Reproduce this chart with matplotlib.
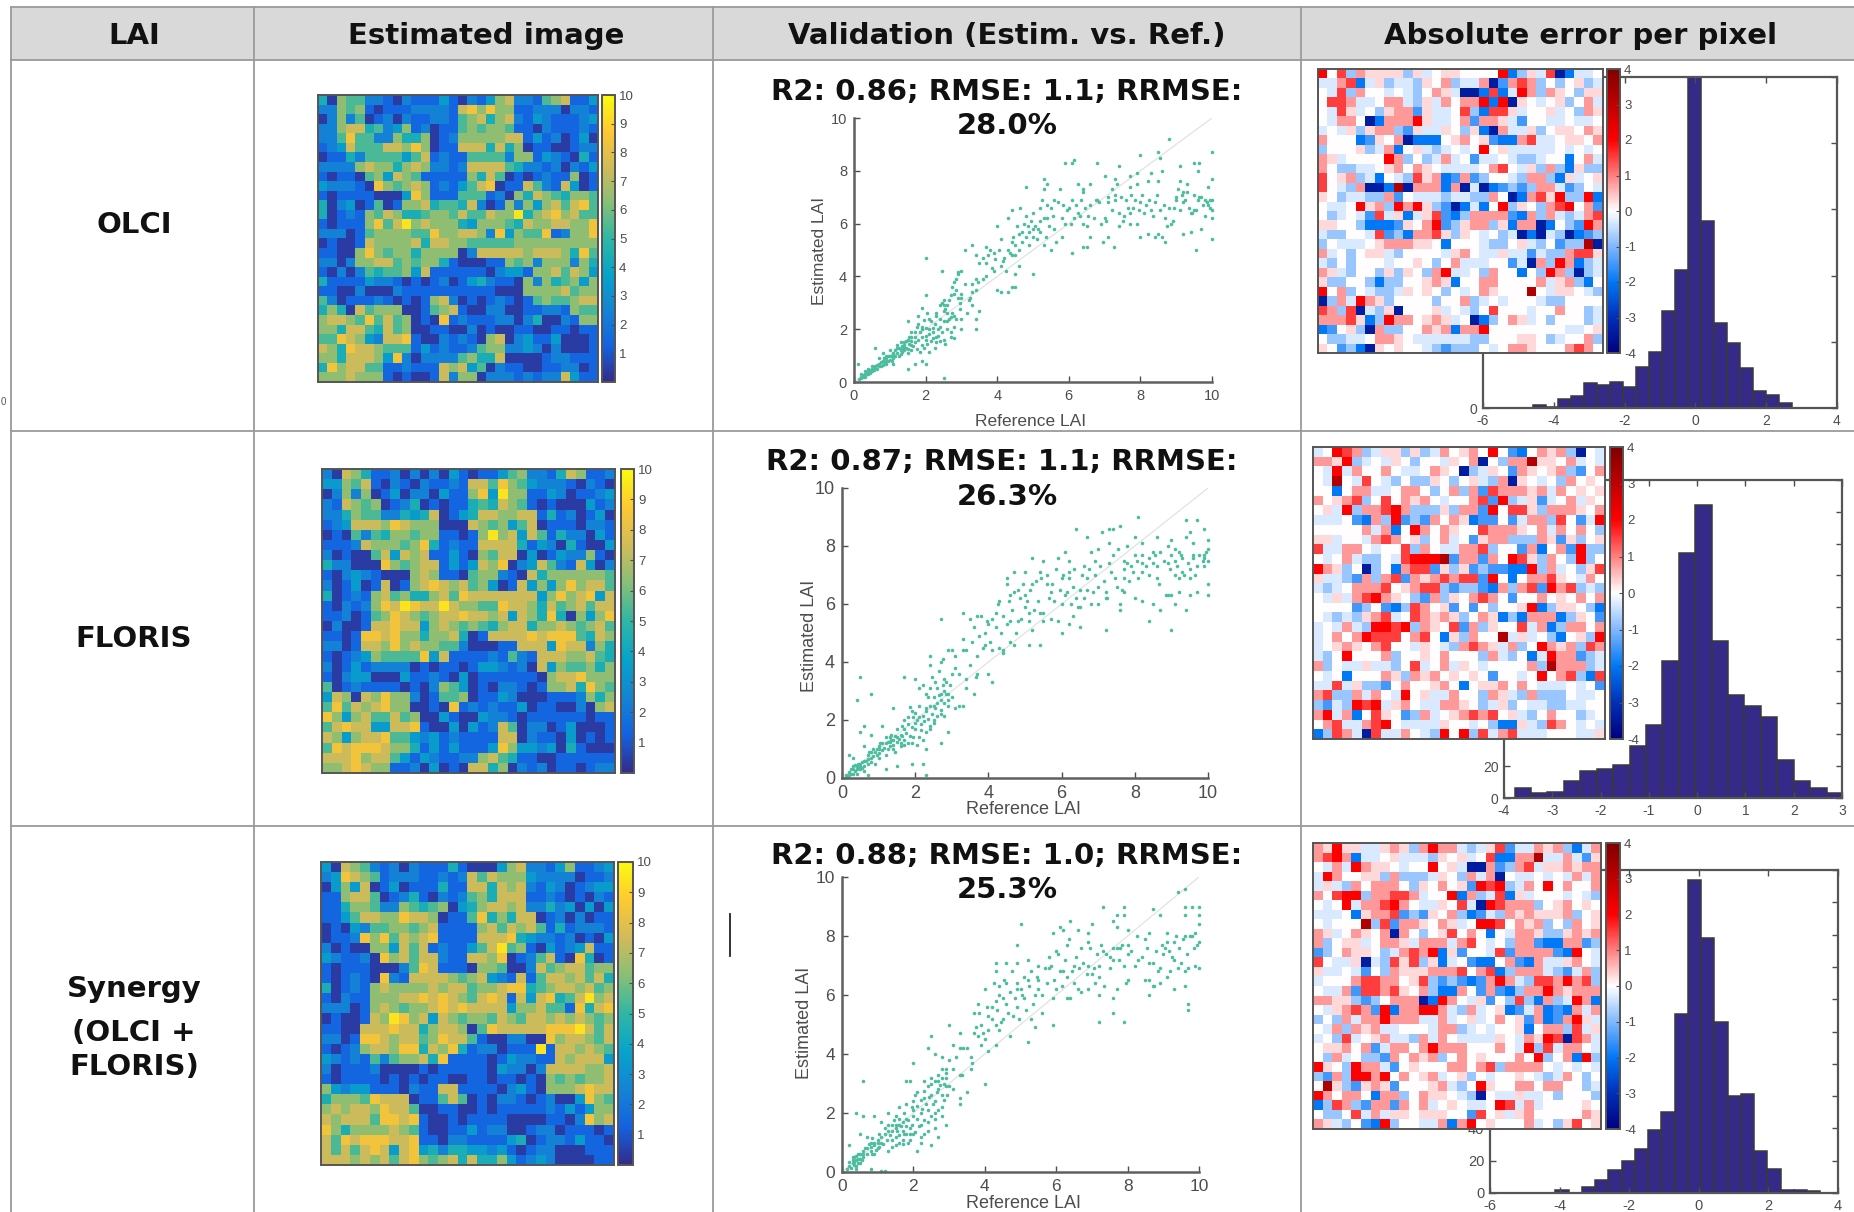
import numpy as np
import matplotlib
matplotlib.use("Agg")
import matplotlib.pyplot as plt
from matplotlib.colors import LinearSegmentedColormap
from matplotlib.patches import Rectangle

W, H = 1854, 1212
plt.rcParams['font.family'] = ['Liberation Sans', 'DejaVu Sans']
plt.rcParams['axes.unicode_minus'] = False

# LAI maps, one digit per pixel
OLCI_MAP = """
4065522102 1113102136 7221567113
2265610111 2222178686 6112220221
0262501202 1122156746 7213211123
2267745236 1201156566 5110211121
2258552264 4601266666 7713120130
1237555776 8601177747 4601100122
0114255553 5712115555 2661321041
2222676646 7622127777 5422120213
1011056376 5111116475 0101211601
3222108656 7612135780 1175217301
1011110003 8611155512 0647654665
4023015016 6745547201 6263675785
4012165764 4566575576 6946786755
1011168579 6766643666 5476677668
2220156666 5586677628 3655812668
0100176666 7477665555 5666666666
1100686566 4666602777 7767776485
2202667756 5664100011 6562666264
1020254556 3711111102 3316675763
4111132210 1012013421 1062645636
1100200021 1111111110 0066667566
5201112101 0167201012 1015655677
4640756660 0156710022 0011221655
6776585756 0108121112 2024002166
6647754756 0011002010 0110011011
5587632778 1002121067 0231130001
7648776555 1312112566 2232020001
6647776382 0222256447 0000122111
4867755112 1117673502 1100112201
6667666101 0017266022 2121227311
"""
FLORIS_MAP = """
2076411202 0203101135 6221476112
3365710210 2112177586 5322210210
0262601302 2031168396 6113201123
2176560124 0101145476 5101000312
2246552243 4701347766 7714120130
1237776876 6600076563 5701110221
0105254665 6611016967 3751422031
1112766656 8412117777 4132041003
2010057376 7113106577 0301322610
4220008656 7713137680 2375217302
1023210006 7611056621 0746666665
2013017016 7876756301 7363686775
4012167564 4675877777 7736867837
1021268798 7797665587 7647567577
1120156876 5677877673 7648406368
0200177877 3676565467 7466765675
1101887866 4667401777 7878885476
2201776867 6655200011 7773877264
1012365555 8371111215 2177766754
2013122220 1011013321 2073655646
1023300031 1210301111 1106778666
5012111101 0265301022 1016674865
3760768662 0155601132 0001112646
5857678660 0108121211 3011002067
8636755756 0031003221 0111111011
5787733778 1003031275 0220130001
7636778553 2312111177 0211030101
5878887664 1313111386 3323041000
7778677531 3211226754 1100111111
6678766112 0301077460 2120110122
"""
SYNERGY_MAP = """
3076521202 1114100036 7221361123
2387651222 1121275766 6322220112
0363701301 1141177476 7213201233
1167750124 1021256477 7112101021
1146652265 4560346776 7224230303
1135776687 7601158464 7701202011
0103255665 6711116757 6751412221
0112868576 7811117778 4322120103
2010066375 7121135795 6103123711
3211208675 7721177680 1257108401
1011100025 8711106650 0275677566
1012108217 7776567321 7157767574
4012167666 6767756678 8456776756
1021166677 8787657871 7378457967
2220167656 6787877773 6675518478
0100176986 7376566576 5776767656
1100777877 4677605877 7778889757
2201887677 5687751002 2008677657
1012677688 4768412201 1191776765
3212152566 7481111013 2211767773
2011120000 1011111032 2027777667
1011110101 0110011011 0106565667
6323311102 1177111102 3106667877
4666587770 1157501022 1012003865
6767768775 0011001011 1112131366
7677758878 1001011110 0001102867
8646666765 1001131220 0122011101
7587888778 1102211113 4012213110
7575787378 3424433231 0122000111
7776767578 6567474463 1232000011
"""
# error maps, one letter per pixel
OLCI_ERR = """
s.rbqppppb pa.pp....s dbparedaa.
aaqrdapbaa bp.qbaaqec qrqb.b.pba
.arbq..a.a b.qpaeedrd asqbqp.bpp
.rrqaa.qqa bpaq.qqsds ep.a.pb.qa
.arpa.bpqq cpaa.rbdrr pa..pa.bqp
.aqq.edqqq spaa.qcqqp ac..aa.aa.
a.apbpqqbc paap.bpdeq aapb.pp.qp
q...dcp.qe ddd.pq.pcd dqraa.pp.q
b...pbaqd. paba.a.s.p aaaaa.a.a.
qpa....sqb .baqa.caa. abba..d.qa
q.bbaa.pq. qp.aaaa.qr .apbqbdpbb
r.pqbad.ab rpqdcqcb.. abqqbdpa.p
r.abqeedte qqqdqeaedc bcbqqacb.a
p.baabbqc. aaabaabbq. edqrpsbbsd
.aa.spqbsq spbcedad.s bp.bqrs.qc
.ba.acrapd aprcdbqqqq cdqbqabaqr
pp..bdddcp .qscbpqqbp dqqed.bcsq
abb..arcbd qqrpbp.a.b aedeabedcb
b.aaa.pqqq pp.d...abb .pab.cbbte
qa.b.ppab. ...apq.aap aacabbqrrp
ab.b...a.. p.b.qaaa.. caeqbsqdba
qpab..bpbp .bqsaa.bq. .d.bsqbeba
pbb..bdbb. .pqpd..qq. ...qapqbd.
s.qb.abbap .p.b.a.qp. ..t.app.ab
ebqasqpb.. ..b..qba.a ...abb....
rqbreabpe. ..pa.ab.r. ..a..q..ba
qqqrpdbsqq .pqpa.edb. qpa.b...ba
dc.pbeqbb. .qpqdqqs.. ......aa.p
.bbaa.qqp. aaaaaabb.. .pp.ba..qb
p.cbdep.p. .abcbbb.a. qqp...qrq.
"""
FLORIS_ERR = """
a.srqbappb pbaq.pq.s. cd.qpqbe.a
qqpsba.ap. b..ap.qe.b qqtpp.qa.a
.asaq..q.a a.qp.ebap. cqp.pqbc.q
.at.ar.ab. bbp.b.pabq ep.a.bq.p.
..d.qqaa.q q.b.qbqcrq qqpqaq.p.p
q.pqrb.r.q pq.a..qrcs bapca.qap.
.pasbqqrsq bbbpbqqcs. rrpbqqqp.q
aaa.cdqbsc bcq.qpdcc. caqqbr.cas
.....qaqd. sq.qp..rqq qp.qaq.q.b
ppa..aqrq. pb.qa.cpqq bbbqpcpb.p
raaqq.a..r bq.aaqqrb. .cqd.qcsbb
.a.qabb.ar ssstcqqcq. srpbq.bsb.
sqpb.eb.dq rrcpbpcbcc ddsbqa.bpr
paabcqbqrc qpqrqrrcs. d.qqrp.aq.
aba.qqqr.p qrrbcbbcdq bqrcsqrbab
.apaqrsqp. bcqbp.qrq. c..q.p.q.q
....cb.cdb rq.pc.c.b. .psdbpp.bd
.ababpqra. rqpqpb.qpd bdqqqdbp.c
a.aqabssrs bqp.rcqbp. .raqdbqq.q
a.q.qsrrr. qr.dpbq..t apa.bd.pbs
a.pqp.qr.. ap.abqrqpa qb.sqpqbrq
ab.s...qb. .p.q...bqa b.dasqqcba
qb.aapaab. ra.qap.a.. ..qbtqqqba
.a.d...qpb qpq.p.p.c. .a.s.qrbdr
aarapbbc.q ..pq.d.ppq .q.aaa.a.c
qrbbqaq.as .paaq..bqp abqbbb.aa.
bcabsrsapq .aaqqp.bap b.aabbaa..
qsaqd.rp.c bqa.pqrqr. pab.q..ba.
.qraaqrs.a aaap..a.bd dpabrq.a.a
dbrqaeraaq .abs.sbraq raaa...aap
"""
SYNERGY_ERR = """
qpsppaapqp bqsqqabapr caaqpqbdaq
qrsqdaa.pa aabp.pa.rd dqqtaaqacp
.aqasqpp.a ..s.paeeqc bqrappqpqq
asq..ppbqb bbap.bqaqe .aa.a.aqaq
apabq.qqq. bp.q.pcsrs baq.s.q..q
q.rssbqqrr qa..sdqbar dpa...a.ab
.a.saqqrsq .aap.raesr qqqb.pq.p.
aaa.dpqqrc bcp.qbdcab qpqpppqb.p
.a...tbrcq qp.qpa.ssr .qpqb.bq.p
qpa.qp.qeq .b.pr.q.d. aqqpbbpqpq
qb.ppa.qqp aqqqaqr.a. bqqcddqqcb
cb.qpp.baq rqsdpc..ar cqqqqcds.a
r.aapeabrp rbpda.cdd. qcdqaapq.a
paa.ac.bqp ppqqqr.qrd bqqqabcaqb
a...qrrqq. prbcbcdcqs qabrrqsqrb
.aaqcrrqrp .qbddq.cqc dbqqsqpqqq
qqppbcb.qq qedsq.apc. brbdqbasqd
.apqrqcsdq qssqabqa.p dcaqdcdqaq
b.bqaqqsqq qaaqa.pa.q .pcqdcqspa
.aqbqpqaa. ..aqqba.a. .pd.qqbrap
a.bra.pqaa bqaq.aaaap .aqpsrerqa
.ppq.qcaqq .qsqqq...q .asbraqq.a
.bqa.bbcq. qpqb.q.p.. .q.sb.qdsb
sp.bsqqac. p...qq.qrb qqqq.a.a.a
bcqbssqs.q .pqa.pb.a. .p.abaq.b.
.tpbcpqpc. ..pqab.sp. .qq.qq..ba
sq.qq.dqqb .qpp.abe.a apaa.b...b
dbrqbcqqcq .qa.p.aa.s raqa....p.
.bb.raqapp .ppp..cr.p apq.....qp
qpab.cdsb. .aaqdqs.p. ..qa.bpr.p
"""
SCATTER_OLCI = [
(8.8,9.2),(8.0,8.6),(8.5,8.7),(8.55,8.5),(10,8.7),(5.9,8.3),(6.1,8.3),(6.15,8.4),(6.8,8.3),(7.4,8.2),
(9.5,8.3),(9.65,8.3),(9.6,8.0),(9.1,8.2),(8.6,8.0),(8.3,7.9),(7.9,7.9),(7.7,7.8),(10,7.7),(9.9,7.4),
(5.3,7.7),(5.4,7.5),(4.8,7.4),(5.3,7.3),(5.75,7.3),(6.25,7.5),(6.4,7.3),(6.4,7.2),(6.6,7.5),(7.0,7.8),
(7.3,7.7),(7.2,7.3),(7.3,7.1),(7.7,7.4),(7.9,7.5),(8.2,7.6),(8.5,7.6),(9.1,7.6),(9.3,7.5),(9.3,7.2),
(9.0,7.0),(9.2,7.2),(9.5,7.1),(9.7,7.0),(9.85,6.8),(10,6.9),(10,6.5),(10,6.2),(10,5.4),(9.55,5.0),
(9.2,5.6),(9.7,5.8),(8.7,5.3),(8.5,5.6),(8.2,5.6),(8.0,5.5),(7.25,5.1),(6.95,5.3),(6.6,5.5),(7.1,5.5),
(6.4,5.1),(6.5,5.1),(6.1,4.9),(5.0,4.1),(4.5,4.1),(4.0,3.5),(4.1,3.4),(4.3,3.4),(4.4,3.6),(4.5,3.6),
(4.9,5.7),(5.0,5.5),(4.7,5.3),(4.5,5.2),(4.6,5.6),(4.4,6.5),(4.3,6.2),(4.65,6.6),(4.8,6.3),(5.0,6.4),
(5.2,6.1),(5.4,6.2),(5.2,6.6),(5.25,6.9),(5.4,6.7),(5.6,6.9),(5.6,5.8),(5.8,5.5),(5.9,6.0),(6.0,6.6),
(6.2,6.7),(6.3,6.3),(6.4,6.0),(6.6,6.7),(6.8,6.9),(7.0,6.2),(7.1,6.8),(7.4,6.4),(7.6,6.9),(7.8,6.6),
(8.0,6.8),(8.1,6.4),(8.4,6.8),(8.7,6.2),(8.9,6.1),(9.1,6.5),(9.4,6.4),(9.5,6.5),(9.6,6.9),(9.8,6.3),
(7.9,6.0),(7.5,6.1),(7.7,6.4),(8.3,6.5),(8.8,6.6),(9.0,6.9),(9.2,6.8),(5.0,5.8),(5.3,5.2),(5.5,5.0),
(4.2,4.7),(4.3,5.0),(4.4,4.8),(4.6,4.4),(4.1,4.4),(3.8,5.0),(3.7,5.1),(3.6,4.7),(3.4,4.8),(3.5,4.5),
(3.9,4.9),(4.0,5.9),(4.1,5.4),(3.1,5.0),(3.3,5.2),(3.9,4.2),(3.7,4.0),(3.4,3.9),(3.3,3.7),(3.1,3.7),
(3.0,4.2),(2.9,4.1),(2.8,3.8),(2.85,3.5),(2.7,3.3),(2.5,3.1),(2.4,2.9),(2.0,4.7),(2.45,4.2),(2.0,3.3),
(3.0,3.2),(3.2,3.1),(3.3,2.9),(3.5,2.7),(3.4,2.4),(3.4,2.0),(3.0,2.4),(2.8,2.5),(2.6,2.6),(2.5,2.7),
(2.3,2.5),(2.1,2.4),(2.1,2.0),(1.9,2.1),(1.8,2.2),(1.8,2.5),(1.9,2.8),(1.5,2.3),(2.3,1.7),(2.5,1.6),
(2.7,1.7),(2.8,2.1),(2.0,1.6),(1.9,1.4),(1.7,1.7),(1.6,1.9),(1.5,1.6),(1.4,1.5),(1.3,1.5),(1.2,1.3),
(1.4,1.3),(1.5,1.1),(1.1,1.1),(1.0,1.0),(1.1,0.9),(0.9,1.0),(0.9,0.8),(0.8,0.8),(0.7,0.7),(0.7,0.9),
(0.6,1.3),(0.6,0.6),(0.5,0.5),(0.6,0.5),(0.4,0.4),(0.4,0.5),(0.3,0.3),(0.3,0.4),(0.2,0.2),(0.2,0.3),
(0.1,0.7),(1.5,0.5),(1.7,0.7),(2.0,0.7),(1.9,0.8),(2.5,0.15),(1.1,0.7),(0.8,1.1),(1.3,1.2),(1.6,1.4),
(1.2,1.4),(0.9,0.9),(0.5,0.6),(0.35,0.3),(0.25,0.25),(1.0,1.2),(1.6,1.7),(2.2,1.9),(2.4,2.1),(2.6,2.3),
(0.15,0.1),(0.2,0.15),(0.25,0.2),(0.3,0.2),(0.3,0.25),(0.35,0.35),(0.4,0.3),(0.45,0.35),(0.45,0.45),(0.5,0.4),
(0.55,0.45),(0.55,0.55),(0.6,0.55),(0.65,0.5),(0.65,0.65),(0.7,0.6),(0.75,0.6),(0.75,0.75),(0.8,0.65),(0.85,0.75),
(0.85,0.9),(0.9,0.7),(0.95,0.8),(0.95,1.0),(1.0,0.85),(1.05,1.0),(1.05,0.8),(1.1,1.05),(1.15,1.0),(1.15,1.2),
(1.2,1.1),(1.25,1.0),(1.25,1.3),(1.3,1.25),(1.3,1.05),(1.35,1.35),(1.35,1.15),(1.4,1.4),(1.4,1.2),(1.45,1.55),
(1.45,1.3),(1.5,1.25),(1.55,1.45),(1.55,1.7),(1.6,1.2),(1.6,1.55),(1.65,1.35),(1.7,1.9),(1.7,1.5),(1.75,2.1),
(1.75,1.25),(1.8,1.6),(1.85,1.9),(1.85,1.15),(1.9,2.0),(1.9,1.7),(1.95,2.35),(1.95,1.3),(2.0,2.05),(2.0,1.75),
(2.05,1.45),(2.05,2.6),(2.1,1.15),(2.1,1.8),(2.15,2.3),(2.15,1.55),(2.2,2.05),(2.2,1.65),(2.25,1.3),(2.25,2.2),
(2.3,2.6),(2.3,1.5),(2.35,2.0),(2.35,1.75),(2.4,2.4),(2.4,1.55),(2.45,3.0),(2.45,1.9),(2.5,2.9),(2.5,2.3),
(2.55,1.45),(2.55,2.75),(2.6,2.0),(2.6,2.9),(2.65,3.1),(2.65,2.4),(2.7,2.45),(2.7,1.9),(2.75,3.6),(2.75,2.6),
(2.8,3.35),(2.8,1.65),(2.85,2.4),(2.85,3.9),(2.9,3.2),(2.9,4.15),(2.95,2.75),(2.95,3.0),(3.0,3.35),(3.0,2.0),
(3.15,2.6),(3.25,3.2),(3.3,3.4),(3.4,3.5),(3.45,3.8),(3.6,3.9),(3.7,4.5),(3.75,4.8),(3.85,4.3),(3.95,4.65),
(4.05,5.0),(4.15,4.6),(4.25,4.2),(4.35,4.9),(4.4,5.3),(4.45,5.5),(4.5,4.8),(4.55,5.9),(4.6,5.0),(4.7,5.7),
(4.75,6.0),(4.8,5.5),(4.85,5.9),(4.9,5.2),(4.95,6.1),(5.05,5.9),(5.1,5.4),(5.15,5.8),(5.2,5.7),(5.3,6.2),
(5.35,5.5),(5.45,5.9),(5.5,6.6),(5.55,6.3),(5.65,5.3),(5.7,6.8),(5.8,6.2),(5.85,6.7),(5.95,6.5),(6.05,6.0),
(6.1,6.9),(6.15,6.2),(6.25,6.4),(6.35,6.9),(6.45,6.6),(6.5,5.9),(6.55,6.3),(6.7,6.2),(6.75,6.9),(6.85,6.8),
(6.9,6.0),(7.05,6.1),(7.1,7.0),(7.2,6.5),(7.3,6.9),(7.35,7.5),(7.45,7.0),(7.55,6.3),(7.65,6.6),(7.75,7.1),
(7.85,6.9),(7.95,6.5),(8.05,7.1),(8.15,6.7),(8.25,6.9),(8.35,6.3),(8.45,7.1),(8.55,6.5),(8.65,6.7),(8.75,5.9),
(8.85,6.0),(8.95,6.6),(9.05,7.3),(9.15,7.1),(9.25,6.9),(9.35,6.6),(9.45,6.4),(9.55,6.5),(9.65,7.0),(9.75,6.7),
(9.8,6.9),(9.9,6.7),(9.95,6.6),(9.95,6.9),(9.4,5.7),(8.6,5.5),(8.4,5.5),(7.7,6.0),(7.4,5.9),
]
SCATTER_FLORIS = [
(8.1,9.0),(6.4,8.6),(7.1,8.5),(7.3,8.6),(7.4,8.6),(7.6,8.7),(9.4,8.9),(9.7,8.9),(9.5,8.5),(9.4,8.3),
(9.9,8.6),(10,8.2),(8.6,8.3),(9.0,8.2),(6.7,8.3),(7.3,8.1),(7.8,8.0),(8.0,8.3),(8.2,8.1),(9.6,8.1),
(9.1,7.9),(9.2,7.8),(8.9,8.0),(8.5,7.8),(8.4,7.6),(8.0,7.7),(7.7,7.5),(7.4,7.7),(7.0,7.9),(6.8,7.8),
(6.1,7.8),(5.9,7.6),(5.2,7.6),(5.5,7.5),(6.2,7.5),(6.6,7.3),(6.9,7.5),(7.3,7.4),(7.9,7.3),(8.2,7.4),
(8.6,7.3),(8.9,7.4),(9.1,7.5),(9.3,7.6),(9.6,7.7),(9.9,7.7),(10,7.9),(10,7.5),(9.9,7.3),(9.5,7.2),
(9.3,7.1),(9.1,7.0),(8.6,6.9),(8.2,7.1),(7.7,6.9),(7.5,6.6),(7.7,6.4),(8.0,6.2),(8.2,6.1),(8.5,6.0),
(8.9,6.3),(9.0,6.3),(9.2,6.4),(9.5,6.3),(9.7,6.4),(10,6.7),(10,6.3),(9.1,6.0),(9.4,5.8),(8.7,5.8),
(8.4,5.4),(9.0,5.1),(7.2,5.1),(7.6,5.8),(7.6,6.0),(7.2,6.2),(6.8,6.0),(6.5,5.9),(6.3,5.6),(6.5,5.2),
(6.0,5.0),(6.2,5.3),(5.9,5.4),(5.5,5.4),(5.2,5.1),(5.1,4.6),(5.4,4.6),(4.7,4.6),(4.6,4.7),(4.3,4.5),
(4.1,3.3),(4.0,3.6),(3.7,3.6),(3.4,3.1),(3.6,2.9),(3.3,2.5),(3.2,2.5),(3.1,2.4),(4.7,7.1),(5.0,7.1),
(5.4,7.1),(4.5,6.9),(4.5,6.7),(4.8,6.5),(5.0,6.3),(4.6,6.3),(5.2,6.7),(5.6,6.7),(5.7,6.4),(6.0,6.9),
(6.2,6.9),(6.3,6.6),(6.1,6.3),(6.5,6.5),(6.7,6.9),(7.0,6.6),(7.2,6.4),(5.0,5.9),(5.1,5.7),(5.4,5.7),
(5.7,5.5),(4.8,5.4),(4.6,5.4),(4.4,5.6),(4.2,5.7),(4.3,6.1),(4.0,5.3),(3.9,5.0),(3.7,5.6),(3.6,5.2),
(3.3,5.7),(3.5,5.5),(2.7,5.5),(3.3,4.8),(3.4,4.4),(3.1,4.2),(2.9,4.4),(2.7,4.0),(2.4,4.2),(2.4,3.9),
(4.1,4.4),(3.9,4.6),(4.4,4.3),(3.7,4.2),(3.0,3.6),(2.8,3.4),(2.8,3.0),(2.6,3.1),(2.4,3.1),(2.3,2.9),
(2.7,2.7),(2.9,2.9),(2.9,2.5),(2.7,2.2),(2.5,2.5),(2.5,2.0),(2.3,2.3),(2.1,2.1),(2.0,1.9),(1.9,2.3),
(1.8,2.1),(1.7,1.7),(2.0,3.4),(2.1,3.1),(1.7,3.5),(0.5,3.5),(0.8,2.9),(0.4,2.7),(2.9,1.6),(2.7,1.2),
(2.3,1.0),(2.2,1.3),(2.4,1.8),(2.1,1.4),(1.9,1.2),(1.6,1.2),(1.6,1.5),(1.5,1.4),(1.4,1.3),(1.3,1.4),
(1.2,1.2),(1.1,1.2),(1.0,1.1),(0.9,0.9),(0.8,0.9),(0.7,0.8),(0.6,0.6),(0.5,0.5),(0.4,0.4),(0.3,0.3),
(0.2,0.2),(0.1,0.1),(0.6,1.8),(0.5,1.6),(0.6,1.1),(0.3,0.7),(0.2,0.8),(0.8,1.5),(1.1,1.8),(1.4,2.4),
(1.2,0.8),(1.5,0.4),(1.9,0.5),(2.2,0.5),(2.3,0.1),(0.7,0.1),(0.9,0.5),(1.2,0.3),(1.0,0.7),(0.7,0.5),
(1.4,1.0),(1.7,1.3),(0.4,0.3),(0.3,0.4),(0.5,0.3),(0.25,0.15),(1.3,1.1),(1.0,1.0),(0.8,0.7),(0.6,0.4),
(0.15,0.05),(0.2,0.1),(0.25,0.3),(0.3,0.15),(0.35,0.25),(0.35,0.45),(0.4,0.15),(0.45,0.35),(0.45,0.5),(0.5,0.4),
(0.55,0.35),(0.55,0.55),(0.6,0.25),(0.65,0.6),(0.7,0.65),(0.75,0.9),(0.8,0.55),(0.85,0.75),(0.85,1.0),(0.95,1.0),
(0.95,0.8),(1.0,0.85),(1.05,1.2),(1.1,0.95),(1.15,1.05),(1.2,1.4),(1.25,1.25),(1.25,1.0),(1.3,1.25),(1.35,1.3),
(1.35,1.5),(1.4,1.15),(1.45,1.45),(1.45,0.9),(1.5,1.25),(1.5,1.7),(1.55,1.35),(1.6,1.1),(1.65,1.8),(1.65,1.45),
(1.7,1.15),(1.7,2.0),(1.75,1.55),(1.8,1.85),(1.8,1.2),(1.85,1.45),(1.85,2.45),(1.9,1.75),(1.95,2.1),(1.95,1.4),
(2.0,1.7),(2.0,2.25),(2.05,1.15),(2.05,2.0),(2.1,2.5),(2.15,1.85),(2.15,1.65),(2.2,2.15),(2.2,3.2),(2.25,1.95),
(2.3,2.4),(2.3,1.6),(2.35,2.05),(2.35,2.8),(2.4,1.7),(2.4,2.5),(2.45,3.5),(2.45,2.2),(2.5,2.8),(2.5,1.9),
(2.55,2.4),(2.55,3.3),(2.6,2.6),(2.6,2.15),(2.65,3.7),(2.65,2.85),(2.7,2.9),(2.7,2.35),(2.75,3.2),(2.75,4.1),
(2.8,2.6),(2.8,2.15),(2.85,2.9),(2.85,3.3),(2.9,2.7),(2.95,3.2),(3.0,2.8),(3.0,4.4),(3.1,3.8),(3.2,3.6),
(3.3,4.4),(3.4,3.4),(3.5,3.9),(3.55,4.7),(3.65,3.5),(3.75,4.9),(3.8,5.6),(3.85,4.5),(3.95,5.4),(4.05,4.7),
(4.1,5.5),(4.2,5.2),(4.25,6.0),(4.35,5.0),(4.4,4.4),(4.5,5.3),(4.55,6.1),(4.65,5.8),(4.7,6.4),(4.75,5.0),
(4.85,6.2),(4.9,5.5),(4.95,6.7),(5.05,6.1),(5.1,5.4),(5.15,6.5),(5.25,5.8),(5.3,6.8),(5.35,6.1),(5.45,6.9),
(5.5,5.7),(5.6,7.0),(5.65,6.2),(5.75,6.7),(5.8,6.1),(5.85,7.2),(5.95,6.5),(6.0,6.0),(6.05,7.0),(6.15,6.4),
(6.2,7.1),(6.25,6.0),(6.35,7.2),(6.4,6.2),(6.45,5.9),(6.55,7.0),(6.6,6.2),(6.7,6.5),(6.75,7.2),(6.85,6.4),
(6.9,7.0),(7.0,6.0),(7.05,7.3),(7.15,6.8),(7.25,6.2),(7.35,7.1),(7.45,6.9),(7.55,7.9),(7.65,6.5),(7.7,7.2),
(7.8,7.4),(7.85,6.8),(7.95,7.1),(8.05,7.5),(8.1,6.9),(8.2,7.7),(8.3,7.3),(8.4,7.0),(8.5,7.4),(8.55,7.7),
(8.65,6.7),(8.7,7.8),(8.8,7.5),(8.85,6.3),(8.95,7.2),(9.0,7.7),(9.15,7.3),(9.2,6.9),(9.25,7.7),(9.35,7.0),
(9.45,7.4),(9.5,6.9),(9.6,7.6),(9.65,7.0),(9.7,7.3),(9.75,7.7),(9.85,7.5),(9.9,7.6),(9.95,7.8),
]
SCATTER_SYNERGY = [
(9.6,9.6),(9.4,9.5),(7.3,9.0),(7.9,9.0),(9.6,9.0),(9.8,9.0),(10,9.0),(10,8.7),(9.6,8.7),(8.7,8.9),
(8.9,8.7),(7.9,8.7),(7.7,8.7),(5.0,8.4),(5.9,8.1),(6.1,8.3),(6.4,8.5),(7.0,8.4),(7.6,8.5),(6.2,8.2),
(6.6,8.2),(6.9,8.1),(7.7,8.3),(8.0,8.2),(8.6,8.1),(9.1,8.1),(9.6,8.0),(10,8.4),(9.8,8.0),(10,7.8),
(9.1,7.8),(9.3,7.8),(8.5,7.9),(8.0,7.7),(7.8,7.6),(7.6,7.6),(7.3,7.5),(6.9,7.8),(6.7,7.6),(6.3,7.7),
(6.0,7.5),(5.8,7.3),(4.9,7.7),(5.2,7.2),(4.9,7.1),(4.6,7.1),(4.3,7.1),(4.3,6.8),(5.5,7.0),(5.8,6.9),
(6.2,6.8),(6.5,7.0),(6.9,7.0),(7.2,7.0),(7.5,7.3),(8.0,7.4),(8.3,7.2),(8.7,7.1),(9.0,7.4),(9.3,7.2),
(9.5,7.1),(9.9,7.0),(10,6.9),(9.6,6.8),(9.2,6.8),(8.9,6.9),(8.6,6.5),(8.7,6.3),(8.9,6.4),(9.3,6.2),
(9.6,6.3),(8.6,6.0),(8.0,6.5),(7.7,6.2),(7.6,5.9),(7.2,6.0),(7.1,6.4),(7.0,6.7),(6.6,6.2),(6.4,5.9),
(6.3,5.9),(6.0,6.2),(5.9,5.9),(7.6,5.4),(7.2,5.1),(7.9,5.1),(9.7,5.7),(9.7,5.5),(5.9,5.0),(5.3,5.2),
(5.4,4.9),(5.2,4.4),(4.7,4.6),(4.4,4.8),(4.9,5.6),(4.8,5.3),(5.1,5.9),(5.4,6.0),(5.6,6.0),(5.0,6.2),
(4.9,6.4),(4.6,6.4),(5.2,6.5),(5.5,6.5),(4.4,6.3),(4.3,5.8),(4.2,5.6),(4.5,5.9),(4.0,6.2),(3.8,5.7),
(3.7,5.4),(4.1,5.3),(4.3,5.0),(4.5,5.2),(3.9,5.0),(3.7,4.7),(4.0,4.5),(4.3,4.3),(4.1,4.1),(3.8,4.6),
(3.0,5.0),(3.3,4.7),(3.1,4.3),(3.4,4.2),(2.5,4.6),(2.4,4.2),(2.6,4.0),(2.0,3.7),(2.8,3.9),(3.0,3.8),
(4.0,3.0),(3.6,3.5),(3.3,3.3),(3.1,3.5),(2.9,3.5),(2.8,3.2),(2.7,3.1),(2.5,3.2),(2.3,3.1),(1.8,3.1),
(1.9,3.1),(0.6,3.1),(3.5,2.7),(3.3,2.5),(3.3,2.3),(2.9,2.9),(2.8,2.6),(2.5,2.6),(2.3,2.5),(2.1,2.7),
(2.0,2.4),(1.8,2.3),(1.6,2.2),(2.8,2.2),(2.8,1.9),(2.6,2.0),(2.4,2.1),(2.2,2.0),(2.0,1.9),(1.8,1.8),
(1.5,1.9),(1.3,2.0),(1.1,1.7),(0.9,1.9),(0.6,1.9),(0.4,2.0),(2.9,1.6),(2.7,1.2),(2.6,1.5),(2.3,1.3),
(2.2,1.0),(2.1,0.7),(2.5,0.9),(1.9,1.1),(1.7,1.4),(1.6,1.6),(1.5,1.5),(1.4,1.6),(1.3,1.4),(1.2,1.3),
(1.7,1.1),(1.5,0.9),(1.3,0.7),(1.1,1.0),(1.0,1.1),(0.9,0.9),(0.8,1.0),(0.7,0.8),(0.7,1.2),(0.5,1.3),
(0.6,0.5),(0.5,0.6),(0.4,0.4),(0.3,0.3),(0.3,0.5),(0.2,0.2),(0.2,0.9),(0.4,0.2),(0.5,0.3),(0.15,0.1),
(0.8,0.1),(1.2,0.05),(1.1,0.05),(0.4,0.1),(0.9,0.6),(1.0,0.8),(1.4,1.1),(1.6,1.0),(1.9,1.5),(2.2,1.6),
(2.0,1.3),(1.8,1.3),(2.4,1.7),(2.6,2.4),(2.7,2.8),(2.9,3.2),(0.45,0.45),(0.35,0.25),(0.6,0.7),(0.8,0.7),
(0.2,0.35),(0.25,0.15),(0.3,0.4),(0.35,0.5),(0.35,0.35),(0.4,0.55),(0.45,0.3),(0.45,0.6),(0.5,0.45),(0.55,0.4),
(0.6,0.6),(0.65,0.8),(0.7,0.6),(0.75,0.95),(0.8,0.85),(0.85,0.6),(0.85,1.15),(0.9,1.0),(0.95,0.75),(1.0,1.0),
(1.05,0.85),(1.05,1.3),(1.1,1.2),(1.15,0.95),(1.2,1.5),(1.25,1.1),(1.3,1.6),(1.35,1.25),(1.4,0.85),(1.4,1.4),
(1.45,1.75),(1.5,1.2),(1.5,1.6),(1.55,1.4),(1.6,1.8),(1.6,1.25),(1.65,1.55),(1.7,0.95),(1.7,1.7),(1.75,1.3),
(1.75,2.0),(1.8,1.55),(1.85,1.0),(1.85,1.75),(1.9,1.3),(1.95,2.2),(1.95,1.6),(2.0,2.1),(2.05,1.35),(2.05,2.6),
(2.1,1.8),(2.1,2.25),(2.15,1.55),(2.2,2.45),(2.2,1.2),(2.25,2.15),(2.3,1.75),(2.3,2.75),(2.35,2.3),(2.4,1.4),
(2.4,2.9),(2.45,2.55),(2.5,1.9),(2.5,3.0),(2.55,2.3),(2.6,3.1),(2.6,1.8),(2.65,2.7),(2.7,3.3),(2.7,2.1),
(2.75,2.95),(2.8,3.5),(2.85,2.45),(2.85,3.0),(2.9,3.35),(2.95,2.6),(3.0,2.9),(3.1,2.8),(3.2,3.9),(3.3,4.2),
(3.35,3.3),(3.5,4.2),(3.6,3.9),(3.65,3.7),(3.75,4.9),(3.85,5.4),(3.9,4.3),(3.95,4.7),(4.05,5.6),(4.1,4.8),
(4.2,5.2),(4.25,6.4),(4.35,5.5),(4.4,6.0),(4.45,5.1),(4.55,6.5),(4.6,5.7),(4.65,5.4),(4.7,6.1),(4.75,6.8),
(4.85,5.9),(4.9,6.2),(4.95,5.2),(5.05,6.0),(5.1,6.6),(5.15,5.5),(5.25,6.3),(5.3,6.8),(5.35,5.7),(5.45,6.6),
(5.5,6.2),(5.6,5.4),(5.7,6.9),(5.75,6.4),(5.85,7.0),(5.95,6.5),(6.05,7.4),(6.1,6.8),(6.15,6.3),(6.25,7.2),
(6.3,6.6),(6.35,7.9),(6.45,6.8),(6.5,6.4),(6.55,7.3),(6.65,6.9),(6.7,6.1),(6.75,7.1),(6.85,6.7),(6.9,6.2),
(6.95,7.6),(7.05,6.9),(7.15,7.4),(7.2,6.6),(7.25,7.7),(7.35,6.3),(7.4,7.4),(7.5,6.9),(7.6,7.2),(7.7,7.6),
(7.75,7.2),(7.85,7.7),(7.9,7.0),(7.95,6.4),(8.1,7.5),(8.2,7.0),(8.25,8.0),(8.4,7.3),(8.5,6.5),(8.55,7.6),
(8.6,7.1),(8.75,6.3),(8.8,7.5),(8.85,6.8),(8.95,7.7),(9.05,7.6),(9.1,6.6),(9.15,7.5),(9.25,7.3),(9.35,8.0),
(9.4,6.9),(9.45,7.6),(9.55,7.9),(9.65,7.4),(9.7,6.9),(9.75,8.0),(9.85,7.6),(9.9,8.1),(9.95,7.7),
]
# histogram counts and bin limits
HIST_OLCI = [2,1,7,9,19,17,20,16,31,42,73,104,251,141,64,49,30,13,10,4]
HIST_OLCI_RANGE = (-4.6, 2.72)
HIST_FLORIS = [6,3,4,11,17,18,21,33,46,86,154,184,99,65,58,51,24,11,6,3]
HIST_FLORIS_RANGE = (-3.78, 3.02)
HIST_SYNERGY = [2,0,4,8,14,20,27,39,50,111,194,158,106,60,61,26,15,2,2,1]
HIST_SYNERGY_RANGE = (-4.12, 3.49)

ERR_LEVELS = {'.':0, 'p':0.3, 'q':0.8, 'r':1.5, 's':2.0, 't':3.2,
              'a':-0.3, 'b':-0.8, 'c':-1.5, 'd':-2.0, 'e':-3.4}
ROW_LABELS = ["OLCI", "FLORIS"]
HEADERS = ["LAI", "Estimated image", "Validation (Estim. vs. Ref.)", "Absolute error per pixel"]
TITLES = [("R2: 0.86; RMSE: 1.1; RRMSE:", "28.0%"),
          ("R2: 0.87; RMSE: 1.1; RRMSE:", "26.3%"),
          ("R2: 0.88; RMSE: 1.0; RRMSE:", "25.3%")]

parula = LinearSegmentedColormap.from_list("parula", [
    "#352a87", "#1363e1", "#1484d4", "#06a4ca", "#2eb7a4", "#87bf77",
    "#d1bb59", "#fec832", "#f9fb0e"])
errmap = LinearSegmentedColormap.from_list("err", [
    (0, "#000080"), (0.125, "#0030b8"), (0.25, "#0078f5"), (0.375, "#80b8ff"), (0.5, "#ffffff"),
    (0.625, "#ff8080"), (0.75, "#ff0000"), (0.875, "#c00000"), (1, "#800000")])


def lai_grid(txt):
    rows = [r.replace(" ", "") for r in txt.strip().splitlines()]
    return np.array([[int(c) + 0.4 for c in r] for r in rows])


def err_grid(txt):
    rows = [r.replace(" ", "") for r in txt.strip().splitlines()]
    return np.array([[ERR_LEVELS[c] for c in r] for r in rows])


fig = plt.figure(figsize=(W / 100, H / 100), dpi=100)


def axpx(l, t, r, b):
    return fig.add_axes([l / W, 1 - b / H, (r - l) / W, (b - t) / H])


bg = fig.add_axes([0, 0, 1, 1])
bg.set_xlim(0, W)
bg.set_ylim(H, 0)
bg.axis("off")
bg.add_patch(Rectangle((11, 7), W - 11, 53, fc="#d9d9d9", ec="none"))
LINE = "#9a9a9a"
for y in [7, 60, 431, 826]:
    bg.plot([11, W], [y, y], color=LINE, lw=1.3)
for x in [11, 254, 713, 1301]:
    bg.plot([x, x], [7, H], color=LINE, lw=1.3)
bg.plot([730, 730], [914, 956], color="#222222", lw=1.3)

bold = dict(ha="center", va="center", fontweight="bold", family="DejaVu Sans", color="#111111")
for x, s in zip([134, 486, 1007, 1581], HEADERS):
    bg.text(x, 36, s, fontsize=21, **bold)
bg.text(134, 225, ROW_LABELS[0], fontsize=21, **bold)
bg.text(134, 639, ROW_LABELS[1], fontsize=21, **bold)
bg.text(134, 989, "Synergy", fontsize=21, **bold)
bg.text(134, 1033, "(OLCI +", fontsize=21, **bold)
bg.text(134, 1067, "FLORIS)", fontsize=21, **bold)
bg.text(1, 402, "0", ha="left", va="center", fontsize=7, color="#555555")

GREY = "#4d4d4d"


def draw_map(grid, box, cbox, cmap, vmin, vmax, ticks, fs):
    ax = axpx(*box)
    im = ax.imshow(grid, cmap=cmap, vmin=vmin, vmax=vmax, aspect="auto", interpolation="nearest")
    ax.set_xticks([])
    ax.set_yticks([])
    cax = axpx(*cbox)
    cb = fig.colorbar(im, cax=cax)
    cb.set_ticks(ticks)
    cb.ax.tick_params(direction="in", length=3, width=0.8, labelsize=fs, colors=GREY, pad=3)
    for a in [ax, cax]:
        a.set_zorder(5)
        for sp in a.spines.values():
            sp.set_edgecolor("#555555")
            sp.set_linewidth(1.4)
    cb.outline.set_edgecolor("#555555")
    cb.outline.set_linewidth(1.4)


def draw_scatter(pts, box, xlab, ylab, fs, lfs):
    ax = axpx(*box)
    ax.patch.set_alpha(0)
    xs = [p[0] for p in pts]
    ys = [p[1] for p in pts]
    ax.plot([0, 10], [0, 10], color="#e2e2e2", lw=0.9, zorder=1)
    ax.scatter(xs, ys, s=6.5, color="#4cbd9f", lw=0, zorder=2, clip_on=False)
    ax.set_xlim(0, 10)
    ax.set_ylim(0, 10)
    ax.set_xticks(range(0, 11, 2))
    ax.set_yticks(range(0, 11, 2))
    ax.tick_params(direction="in", length=4, width=1, labelsize=fs, colors=GREY, pad=5)
    ax.spines["top"].set_visible(False)
    ax.spines["right"].set_visible(False)
    for k in ["left", "bottom"]:
        ax.spines[k].set_linewidth(1.8)
        ax.spines[k].set_color("#606060")
    ax.set_xlabel("Reference LAI", fontsize=lfs, color=GREY, va="center")
    ax.set_ylabel("Estimated LAI", fontsize=lfs, color=GREY, va="center")
    ax.xaxis.set_label_coords(xlab[0], xlab[1], transform=bg.transData)
    ax.yaxis.set_label_coords(ylab[0], ylab[1], transform=bg.transData)


def draw_hist(counts, rng, box, xlim, ylim, xticks, yticks, fs):
    ax = axpx(*box)
    edges = np.linspace(rng[0], rng[1], len(counts) + 1)
    ax.bar(edges[:-1], counts, width=np.diff(edges), align="edge",
           color="#352a87", edgecolor="#3a3a3a", lw=1.1)
    ax.set_xlim(*xlim)
    ax.set_ylim(*ylim)
    ax.set_xticks(xticks)
    ax.set_yticks(yticks)
    ax.tick_params(direction="in", length=4, width=1, top=True, right=True,
                   labelsize=fs, colors=GREY, pad=4)
    for sp in ax.spines.values():
        sp.set_linewidth(1.6)
        sp.set_color("#555555")
    ax.set_zorder(3)


lai_ticks = list(range(1, 11))
err_ticks = list(range(-4, 5))

draw_map(lai_grid(OLCI_MAP), (318, 95, 598, 382), (602, 95, 615, 382), parula, 0, 10, lai_ticks, 9.5)
draw_map(lai_grid(FLORIS_MAP), (322, 469, 615, 773), (621, 469, 634, 773), parula, 0, 10, lai_ticks, 9.5)
draw_map(lai_grid(SYNERGY_MAP), (321, 862, 614, 1165), (618, 862, 633, 1165), parula, 0, 10, lai_ticks, 9.5)

draw_scatter(SCATTER_OLCI, (854, 118, 1212, 382), (1031, 421), (820, 251), 10.5, 12.5)
draw_scatter(SCATTER_FLORIS, (842, 488, 1208, 778), (1024, 810), (810, 636), 13, 13)
draw_scatter(SCATTER_SYNERGY, (842, 877, 1199, 1172), (1024, 1203), (805, 1023), 12.5, 13)

for (a, b), x, y1, y2 in zip(TITLES, [1007, 1002, 1007], [92, 462, 856], [126, 497, 890]):
    bg.text(x, y1, a, fontsize=21, zorder=10, **bold)
    bg.text(1007, y2, b, fontsize=21, zorder=10, **bold)

draw_map(err_grid(OLCI_ERR), (1318, 69, 1603, 353), (1607, 69, 1620, 353), errmap, -4, 4, err_ticks, 9.5)
draw_map(err_grid(FLORIS_ERR), (1313, 447, 1605, 739), (1610, 447, 1623, 739), errmap, -4, 4, err_ticks, 9.5)
draw_map(err_grid(SYNERGY_ERR), (1313, 843, 1601, 1129), (1606, 843, 1620, 1129), errmap, -4, 4, err_ticks, 9.5)

draw_hist(HIST_OLCI, HIST_OLCI_RANGE, (1483, 77, 1837, 408), (-6, 4), (0, 250),
          range(-6, 5, 2), range(0, 251, 50), 10)
draw_hist(HIST_FLORIS, HIST_FLORIS_RANGE, (1504, 480, 1842, 798), (-4, 3), (0, 200),
          range(-4, 4), range(0, 201, 20), 10)
draw_hist(HIST_SYNERGY, HIST_SYNERGY_RANGE, (1490, 870, 1838, 1193), (-6, 4), (0, 200),
          range(-6, 5, 2), range(0, 201, 20), 10.5)

fig.savefig("out.png", dpi=100)
